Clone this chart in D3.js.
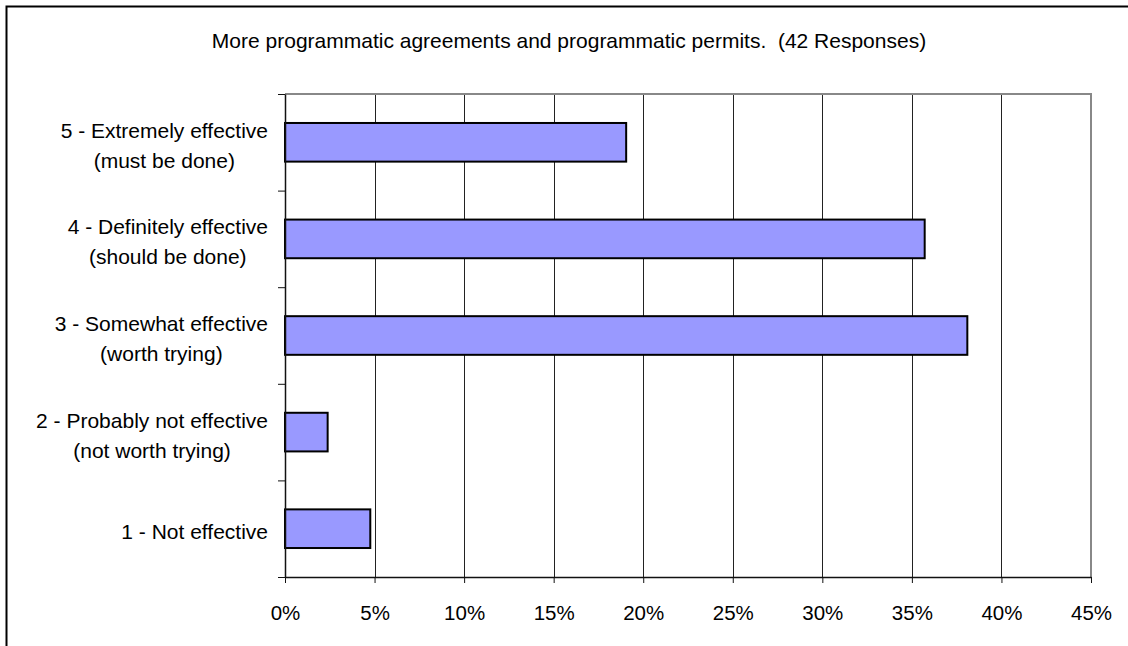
<!DOCTYPE html>
<html>
<head>
<meta charset="utf-8">
<script src="https://cdn.jsdelivr.net/npm/d3@7"></script>
<style>
  html, body { margin: 0; padding: 0; background: #fff; overflow: hidden; }
  svg { display: block; font-family: "Liberation Sans", Arial, Helvetica, sans-serif; }
</style>
</head>
<body>
<svg id="chart" width="1128" height="646"></svg>
<script>
// Survey question and response counts, listed top to bottom
const chartTitle = "More programmatic agreements and programmatic permits.  (42 Responses)";
const totalResponses = 42;
const categories = [
  ["5 - Extremely effective", "(must be done)"],
  ["4 - Definitely effective", "(should be done)"],
  ["3 - Somewhat effective", "(worth trying)"],
  ["2 - Probably not effective", "(not worth trying)"],
  ["1 - Not effective"]
];
const responseCounts = [8, 15, 16, 1, 2];
const xTickValues = [0, 0.05, 0.10, 0.15, 0.20, 0.25, 0.30, 0.35, 0.40, 0.45];

const W = 1128, H = 646;
const plot = { left: 285, right: 1091, top: 94, bottom: 577 };
const fontSize = 21;

const svg = d3.select("#chart");

// outer chart frame (runs off the right and bottom edges)
svg.append("rect")
  .attr("x", 6.5).attr("y", 6.5)
  .attr("width", W + 10).attr("height", H + 10)
  .attr("fill", "none").attr("stroke", "#000").attr("stroke-width", 2);

const keys = categories.map((c, i) => i);
const x = d3.scaleLinear().domain([0, 0.45]).range([plot.left, plot.right]);
const y = d3.scaleBand().domain(keys).range([plot.top, plot.bottom])
  .paddingInner(0.6).paddingOuter(0.3);
const yEdges = d3.scaleLinear().domain([0, categories.length]).range([plot.top, plot.bottom]);

// title
svg.append("text")
  .attr("x", 569).attr("y", 48)
  .attr("text-anchor", "middle")
  .attr("font-size", fontSize)
  .attr("fill", "#000")
  .style("white-space", "pre")
  .text(chartTitle);

// vertical gridlines
svg.append("g")
  .selectAll("line")
  .data(xTickValues.slice(1, -1))
  .join("line")
  .attr("x1", d => Math.round(x(d)) + 0.5).attr("x2", d => Math.round(x(d)) + 0.5)
  .attr("y1", plot.top).attr("y2", plot.bottom)
  .attr("stroke", "#222").attr("stroke-width", 1);

// top and right edges of the plot area
svg.append("path")
  .attr("d", `M${plot.left},${plot.top}H${plot.right}V${plot.bottom}`)
  .attr("fill", "none").attr("stroke", "#888").attr("stroke-width", 2);

// bars
svg.append("g")
  .selectAll("rect")
  .data(responseCounts)
  .join("rect")
  .attr("x", x(0))
  .attr("y", (d, i) => y(i))
  .attr("width", d => x(d / totalResponses) - x(0))
  .attr("height", y.bandwidth())
  .attr("fill", "#9999ff")
  .attr("stroke", "#000")
  .attr("stroke-width", 2);

// bottom axis
const xAxis = d3.axisBottom(x)
  .tickValues(xTickValues)
  .tickFormat(d3.format(".0%"))
  .tickSizeInner(6).tickSizeOuter(0).tickPadding(22);
const gx = svg.append("g").attr("transform", `translate(0,${plot.bottom})`).call(xAxis);
gx.select(".domain").attr("stroke", "#111").attr("stroke-width", 1.5);
gx.selectAll(".tick line").attr("stroke", "#111");
gx.selectAll(".tick text")
  .attr("font-size", 20.5).attr("fill", "#000")
  .attr("font-family", "'Liberation Sans', Arial, Helvetica, sans-serif");

// left axis with ticks at category boundaries
const yAxis = d3.axisLeft(yEdges)
  .tickValues(d3.range(categories.length + 1))
  .tickFormat("")
  .tickSizeInner(7).tickSizeOuter(0);
const gy = svg.append("g").attr("transform", `translate(${plot.left},0)`).call(yAxis);
gy.select(".domain").attr("stroke", "#111").attr("stroke-width", 1.5);
gy.selectAll(".tick line").attr("stroke", "#111");

// category labels: lines centred on each other, block right-aligned to the axis
const labelRight = 268;
const lineGap = 30;
const labels = svg.append("g").attr("font-size", fontSize).attr("fill", "#000");
categories.forEach((lines, i) => {
  const cy = y(i) + y.bandwidth() / 2;
  const t = labels.append("text").attr("text-anchor", "middle");
  const spans = lines.map((s, j) => t.append("tspan").text(s));
  const widest = d3.max(spans, s => s.node().getComputedTextLength());
  const cx = labelRight - widest / 2;
  const first = cy + 10.5 - (lines.length - 1) * lineGap / 2;
  spans.forEach((s, j) => s.attr("x", cx).attr("y", first + j * lineGap));
});
</script>
</body>
</html>
